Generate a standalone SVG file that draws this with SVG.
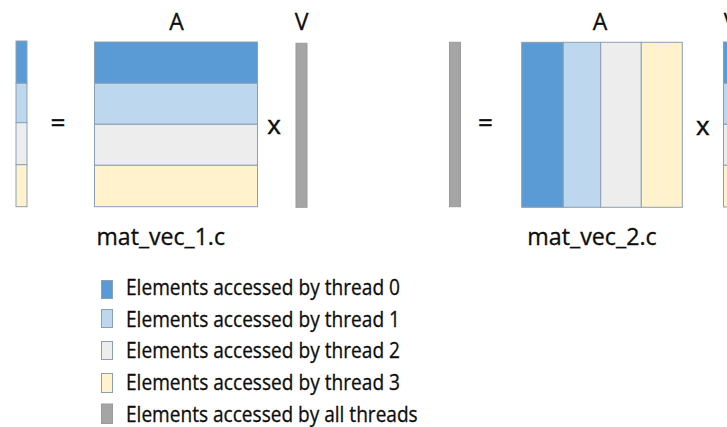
<svg xmlns="http://www.w3.org/2000/svg" width="727" height="427" viewBox="0 0 727 427">
<defs>
<style>
.t{font-family:"Open Sans","Noto Sans",sans-serif;fill:#0d0d0d;stroke:#0d0d0d;stroke-width:0.3}
.c0{fill:#5B9BD5}
.c1{fill:#BDD7EE}
.c2{fill:#EDEDED}
.c3{fill:#FFF2CC}
.cg{fill:#A5A5A5}
.b{stroke:#8a9fb4;stroke-width:1}
.bg{stroke:#9a9a9a;stroke-width:1}
.lab{font-size:23px}
.op{font-size:26px;stroke-width:0.45}
.fn{font-size:23px}
.lg{font-size:21px}
</style>
</defs>
<rect width="727" height="427" fill="#ffffff"/>

<g id="left-result-vector">
<rect class="c0 b" x="16" y="41" width="11" height="42.3"/>
<rect class="c1 b" x="16" y="83.3" width="11" height="39.4"/>
<rect class="c2 b" x="16" y="122.7" width="11" height="42"/>
<rect class="c3 b" x="16" y="164.7" width="11" height="42"/>
</g>

<g id="left-equals"><text class="t op" x="58" y="132" text-anchor="middle">=</text></g>

<g id="left-matrix">
<text class="t lab" x="176.5" y="29.5" text-anchor="middle">A</text>
<rect class="c0 b" x="94.5" y="42" width="163" height="41.3"/>
<rect class="c1 b" x="94.5" y="83.3" width="163" height="41"/>
<rect class="c2 b" x="94.5" y="124.3" width="163" height="41"/>
<rect class="c3 b" x="94.5" y="165.3" width="163" height="41.4"/>
<text class="t fn" x="96.5" y="245" textLength="128.5" lengthAdjust="spacingAndGlyphs">mat_vec_1.c</text>
</g>

<g id="left-times"><text class="t op" x="274" y="134" text-anchor="middle">x</text></g>

<g id="left-vector-v">
<text class="t lab" x="301.5" y="29.5" text-anchor="middle">V</text>
<rect class="cg bg" x="296" y="43.3" width="11" height="164"/>
</g>

<g id="right-result-vector">
<rect class="cg bg" x="449.5" y="42.3" width="11" height="164.4"/>
</g>

<g id="right-equals"><text class="t op" x="485.5" y="132" text-anchor="middle">=</text></g>

<g id="right-matrix">
<text class="t lab" x="600" y="29.5" text-anchor="middle">A</text>
<rect class="c0 b" x="521.7" y="42.3" width="41.6" height="165"/>
<rect class="c1 b" x="563.3" y="42.3" width="37.4" height="165"/>
<rect class="c2 b" x="600.7" y="42.3" width="40.6" height="165"/>
<rect class="c3 b" x="641.3" y="42.3" width="41" height="165"/>
<text class="t fn" x="527.3" y="245" textLength="129.4" lengthAdjust="spacingAndGlyphs">mat_vec_2.c</text>
</g>

<g id="right-times"><text class="t op" x="702.7" y="135" text-anchor="middle">x</text></g>

<g id="right-vector-v">
<text class="t lab" x="730.5" y="29.5" text-anchor="middle">V</text>
<rect class="c0 b" x="723.5" y="42" width="11" height="41.3"/>
<rect class="c1 b" x="723.5" y="83.3" width="11" height="41"/>
<rect class="c2 b" x="723.5" y="124.3" width="11" height="41"/>
<rect class="c3 b" x="723.5" y="165.3" width="11" height="41.7"/>
</g>

<g id="legend">
<rect class="c0 b" x="101.5" y="280.5" width="11" height="18"/>
<text class="t lg" x="126" y="295" textLength="274" lengthAdjust="spacingAndGlyphs">Elements accessed by thread 0</text>
<rect class="c1 b" x="101.5" y="309.5" width="11" height="18"/>
<text class="t lg" x="126" y="326.5" textLength="274" lengthAdjust="spacingAndGlyphs">Elements accessed by thread 1</text>
<rect class="c2 b" x="101.5" y="341.5" width="11" height="18"/>
<text class="t lg" x="126" y="358.3" textLength="274" lengthAdjust="spacingAndGlyphs">Elements accessed by thread 2</text>
<rect class="c3 b" x="101.5" y="373.5" width="11" height="19"/>
<text class="t lg" x="126" y="390" textLength="274" lengthAdjust="spacingAndGlyphs">Elements accessed by thread 3</text>
<rect class="cg bg" x="101.5" y="404" width="11" height="19.5"/>
<text class="t lg" x="126" y="421.7" textLength="291.7" lengthAdjust="spacingAndGlyphs">Elements accessed by all threads</text>
</g>
</svg>
